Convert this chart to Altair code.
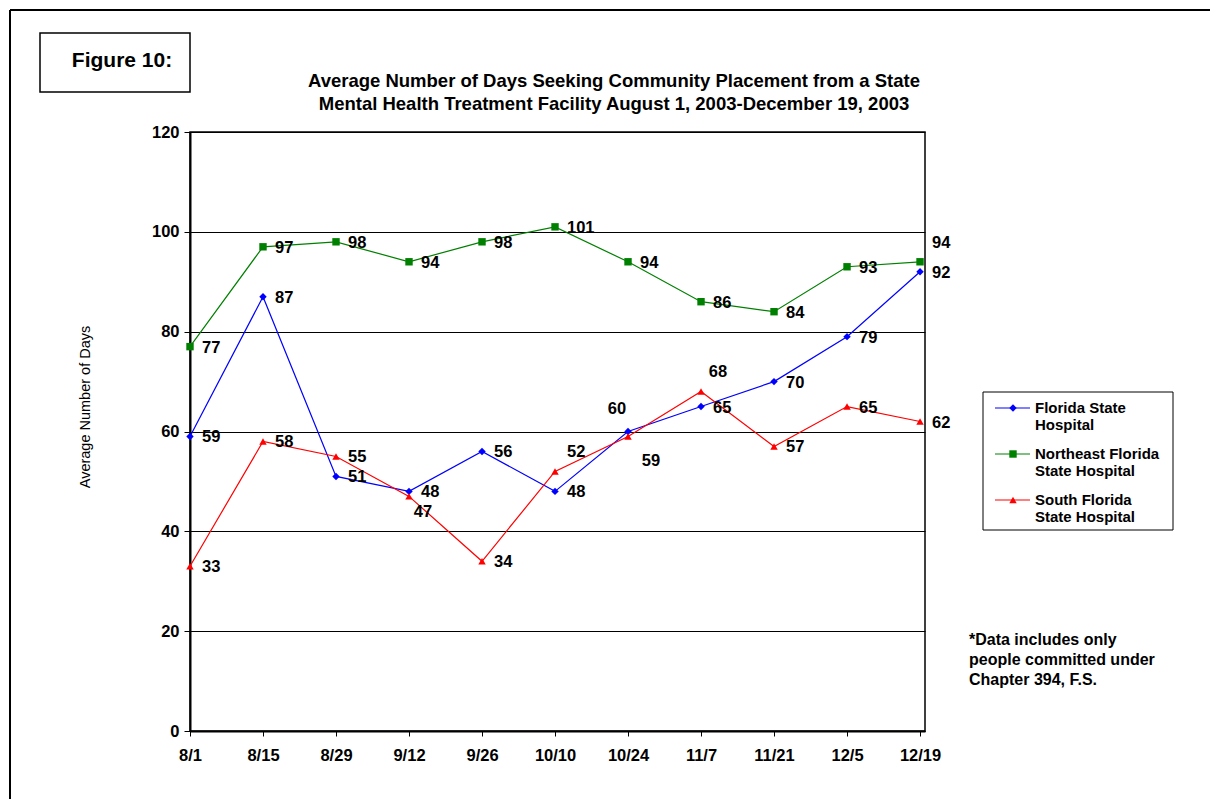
import altair as alt
import pandas as pd

dates = ["8/1", "8/15", "8/29", "9/12", "9/26", "10/10", "10/24", "11/7", "11/21", "12/5", "12/19"]
series_names = ["Florida State Hospital", "Northeast Florida State Hospital", "South Florida State Hospital"]
fsh = [59, 87, 51, 48, 56, 48, 60, 65, 70, 79, 92]
nefsh = [77, 97, 98, 94, 98, 101, 94, 86, 84, 93, 94]
sfsh = [33, 58, 55, 47, 34, 52, 59, 68, 57, 65, 62]

# label placement codes (per point)
fsh_pos = ["r", "r", "r", "r", "r", "r", "al", "r", "r", "r", "r"]
nefsh_pos = ["r", "r", "r", "r", "r", "r", "r", "r", "r", "r", "ra"]
sfsh_pos = ["r", "r", "r", "br", "r", "ra", "bb", "ar", "r", "r", "r"]

colors = ["#0000FF", "#008000", "#FF0000"]
shapes = ["diamond", "square", "triangle-up"]

rows = []
for name, vals, poss in zip(series_names, [fsh, nefsh, sfsh], [fsh_pos, nefsh_pos, sfsh_pos]):
    for i, (d, v, p) in enumerate(zip(dates, vals, poss)):
        rows.append({"i": i, "date": d, "series": name, "value": v, "pos": p})
df = pd.DataFrame(rows)

FONT = "Liberation Sans"
W, H = 735, 599
OX, OY = 190, 132  # plot origin in page

label_js = "[" + ",".join("'%s'" % d for d in dates) + "]"

x = alt.X("i:Q", scale=alt.Scale(domain=[0, 10.068], nice=False, zero=False),
          axis=alt.Axis(values=list(range(11)), labelExpr=label_js + "[datum.value]",
                        title=None, grid=False, labelFont=FONT, labelFontWeight="bold",
                        labelFontSize=16.5, labelColor="black", tickColor="black",
                        tickSize=5, labelPadding=11, domainColor="black", domainWidth=2,
                        labelAngle=0, labelAlign="center"))
y = alt.Y("value:Q", scale=alt.Scale(domain=[0, 120], nice=False),
          axis=alt.Axis(values=list(range(0, 121, 20)), title=None, grid=True,
                        gridColor="black", gridWidth=1, labelFont=FONT,
                        labelFontWeight="bold", labelFontSize=16.5, labelColor="black",
                        tickColor="black", tickSize=6, labelPadding=5,
                        domainColor="black", domainWidth=2))
color = alt.Color("series:N", scale=alt.Scale(domain=series_names, range=colors), legend=None)
shape = alt.Shape("series:N", scale=alt.Scale(domain=series_names, range=shapes), legend=None)

base = alt.Chart(df)
lines = base.mark_line(strokeWidth=1.2).encode(x=x, y=y, color=color, detail="series:N")
points = base.mark_point(filled=True, opacity=1, size=55).encode(x=x, y=y, color=color, shape=shape)

placements = {
    "r": dict(align="left", dx=12, dy=1),
    "ra": dict(align="left", dx=12, dy=-19),
    "al": dict(align="center", dx=-11, dy=-23),
    "ar": dict(align="center", dx=17, dy=-20),
    "br": dict(align="center", dx=14, dy=16),
    "bb": dict(align="center", dx=23, dy=25),
}
label_layers = []
for code, kw in placements.items():
    label_layers.append(
        base.transform_filter(alt.datum.pos == code)
        .mark_text(font=FONT, fontWeight="bold", fontSize=16.5, color="black", baseline="middle", **kw)
        .encode(x=x, y=y, text="value:Q")
    )

one = pd.DataFrame({"a": [0]})
ann = alt.Chart(one)

def px(v):
    return v - OX

def py(v):
    return v - OY

deco = []
# outer page border
deco.append(ann.mark_rule(color="black", strokeWidth=2).encode(
    x=alt.value(px(10)), x2=alt.value(px(1212)), y=alt.value(py(10))))
deco.append(ann.mark_rule(color="black", strokeWidth=2).encode(
    x=alt.value(px(10)), y=alt.value(py(10)), y2=alt.value(py(801))))
# Figure box
deco.append(ann.mark_rect(fill="white", stroke="black", strokeWidth=1.5).encode(
    x=alt.value(px(40)), x2=alt.value(px(190)), y=alt.value(py(33)), y2=alt.value(py(92))))
deco.append(ann.mark_text(text="Figure 10:", font=FONT, fontWeight="bold", fontSize=21,
                          color="black", align="center", baseline="middle").encode(
    x=alt.value(px(122)), y=alt.value(py(61))))
# title
deco.append(ann.mark_text(text=["Average Number of Days Seeking Community Placement from a State",
                                "Mental Health Treatment Facility August 1, 2003-December 19, 2003"],
                          font=FONT, fontWeight="bold", fontSize=18.5, lineHeight=23,
                          color="black", align="center", baseline="middle").encode(
    x=alt.value(px(614)), y=alt.value(py(81))))
# y axis title
deco.append(ann.mark_text(text="Average Number of Days", font=FONT, fontSize=14.5,
                          color="black", align="center", baseline="middle", angle=270).encode(
    x=alt.value(px(86)), y=alt.value(py(407))))
# legend box
deco.append(ann.mark_rect(fill="white", stroke="black", strokeWidth=1).encode(
    x=alt.value(px(983)), x2=alt.value(px(1173)), y=alt.value(py(392)), y2=alt.value(py(530))))
legend_lines = [["Florida State", "Hospital"], ["Northeast Florida", "State Hospital"],
                ["South Florida", "State Hospital"]]
for k, (lab, col, shp) in enumerate(zip(legend_lines, colors, shapes)):
    yy = 408 + k * 46
    deco.append(ann.mark_rule(color=col, strokeWidth=1.2).encode(
        x=alt.value(px(995)), x2=alt.value(px(1030)), y=alt.value(py(yy))))
    deco.append(ann.mark_point(color=col, filled=True, opacity=1, shape=shp, size=55).encode(
        x=alt.value(px(1013)), y=alt.value(py(yy))))
    deco.append(ann.mark_text(text=lab, font=FONT, fontWeight="bold", fontSize=15, lineHeight=17,
                              color="black", align="left", baseline="middle").encode(
        x=alt.value(px(1035)), y=alt.value(py(yy))))
# note
deco.append(ann.mark_text(text=["*Data includes only", "people committed under", "Chapter 394, F.S."],
                          font=FONT, fontWeight="bold", fontSize=16, lineHeight=20,
                          color="black", align="left", baseline="middle").encode(
    x=alt.value(px(969)), y=alt.value(py(640))))

chart = alt.layer(lines, points, *label_layers, *deco).properties(
    width=W, height=H,
    autosize=alt.AutoSizeParams(type="none"),
    padding={"left": OX, "top": OY, "right": 1210 - OX - W, "bottom": 799 - OY - H},
    background="white",
).configure_view(stroke="black", strokeWidth=1.5)

chart.save("out.html", embed_options={"renderer": "svg", "actions": False})
